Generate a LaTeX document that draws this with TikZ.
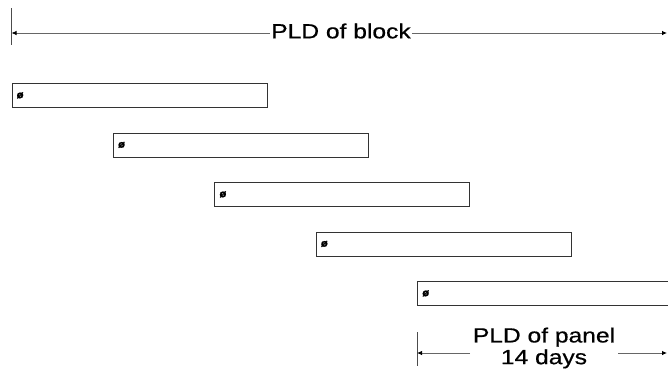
\documentclass[tikz,border=0pt]{standalone}
\usepackage{fontspec}
\setmainfont{Liberation Sans}
\newfontfamily\lblfont[FakeStretch=1.2,FakeBold=0.6]{Liberation Sans}
\newfontfamily\symfont[FakeBold=1.5]{DejaVu Sans}
\usetikzlibrary{arrows.meta}
\tikzset{
  x=1pt, y=-1pt,
  period/.style={draw=black!80, line width=0.8pt, minimum width=255pt,
    minimum height=24pt, inner sep=0pt, anchor=north west},
  sym/.style={font=\symfont\fontsize{10}{10}\selectfont\bfseries, inner sep=0pt, anchor=west},
  dimline/.style={draw=black!60, line width=0.8pt},
  dimtip/.style={dimline, -{Latex[length=5pt,width=4.5pt,black]}},
  tick/.style={draw=black!70, line width=0.8pt},
  lbl/.style={inner sep=1pt, font=\lblfont\fontsize{20.5}{21.7}\selectfont, align=center}
}
\begin{document}
\begin{tikzpicture}
\useasboundingbox (0,0) rectangle (668,381);
\clip (0,0) rectangle (668,381);

% overall span of the block
\coordinate (blockL) at (11.5,33);
\coordinate (blockR) at (667,33);
\coordinate (blockT) at (11.5,8);
\coordinate (blockB) at (11.5,45);
\draw[tick] (blockT) -- (blockB);
\node[lbl] (blocktxt) at (341,31) {PLD of block};
\draw[dimtip] (blocktxt.west |- blockL) -- (blockL);
\draw[dimtip] (blocktxt.east |- blockR) -- (blockR);

% staggered panel periods
\foreach \i in {0,...,4} {
  \node[period] (p\i) at (11.5+101.4*\i, 83+49.5*\i) {};
  \node[sym] (s\i) at ([xshift=5pt]p\i.west) {ø};
}

% span of one panel
\coordinate (panelT) at (417,332);
\coordinate (panelB) at (417,366);
\coordinate (panelL) at (417,353);
\coordinate (panelR) at (667,353);
\coordinate (panelA) at (470,353);
\coordinate (panelC) at (618,353);
\draw[tick] (panelT) -- (panelB);
\node[lbl] (paneltxt) at (544,348) {PLD of panel\\14 days};
\draw[dimtip] (panelA) -- (panelL);
\draw[dimtip] (panelC) -- (panelR);
\end{tikzpicture}
\end{document}
